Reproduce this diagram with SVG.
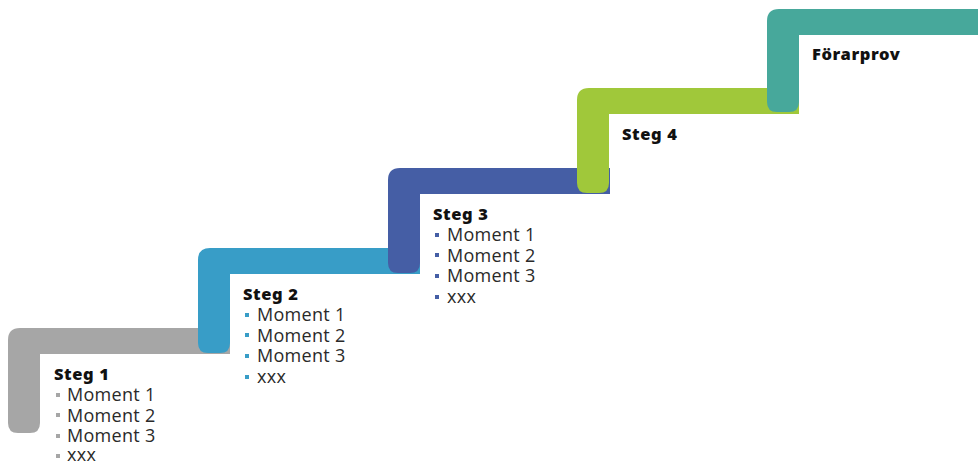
<svg xmlns="http://www.w3.org/2000/svg" width="978" height="465" viewBox="0 0 978 465">
<style>
.t{font-family:"Noto Sans","Open Sans",sans-serif;font-weight:900;font-size:16.5px;letter-spacing:0.6px;fill:#111}
.i{font-family:"Open Sans","Noto Sans",sans-serif;font-weight:400;font-size:18px;letter-spacing:0.3px;fill:#2a2a2a}
</style>
<defs>
<path id="step" d="M0,12 Q0,0 12,0 H222 V26 H32 V95 Q32,105 22,105 H10 Q0,105 0,95 Z"/>
<rect id="b" width="4" height="4"/>
</defs>
<rect width="978" height="465" fill="#fff"/>
<g id="step1">
<use href="#step" x="8" y="328" fill="#A6A6A6"/>
<text class="t" x="54" y="380">Steg 1</text>
<g fill="#A6A6A6"><use href="#b" x="56" y="393"/><use href="#b" x="56" y="413"/><use href="#b" x="56" y="434"/><use href="#b" x="56" y="454"/></g>
<text class="i" x="67" y="401">Moment 1</text>
<text class="i" x="67" y="421.5">Moment 2</text>
<text class="i" x="67" y="442">Moment 3</text>
<text class="i" x="67" y="461">xxx</text>
</g>
<g id="step2">
<use href="#step" x="198" y="248" fill="#389DC7"/>
<text class="t" x="243" y="300">Steg 2</text>
<g fill="#389DC7"><use href="#b" x="245" y="313"/><use href="#b" x="245" y="333"/><use href="#b" x="245" y="354"/><use href="#b" x="245" y="375"/></g>
<text class="i" x="257" y="321">Moment 1</text>
<text class="i" x="257" y="341.5">Moment 2</text>
<text class="i" x="257" y="362">Moment 3</text>
<text class="i" x="257" y="383">xxx</text>
</g>
<g id="step3">
<use href="#step" x="388" y="168" fill="#455EA5"/>
<text class="t" x="433" y="220">Steg 3</text>
<g fill="#455EA5"><use href="#b" x="435" y="233"/><use href="#b" x="435" y="253"/><use href="#b" x="435" y="274"/><use href="#b" x="435" y="295"/></g>
<text class="i" x="447" y="241">Moment 1</text>
<text class="i" x="447" y="261.5">Moment 2</text>
<text class="i" x="447" y="282">Moment 3</text>
<text class="i" x="447" y="303">xxx</text>
</g>
<g id="step4">
<use href="#step" x="577" y="88" fill="#A0C83A"/>
<text class="t" x="622" y="140">Steg 4</text>
</g>
<g id="step5">
<path d="M767,21 Q767,9 779,9 H978 V35 H799 V102 Q799,112 789,112 H777 Q767,112 767,102 Z" fill="#47A89B"/>
<text class="t" x="812" y="60">Förarprov</text>
</g>
<g id="connectors"/>
</svg>
